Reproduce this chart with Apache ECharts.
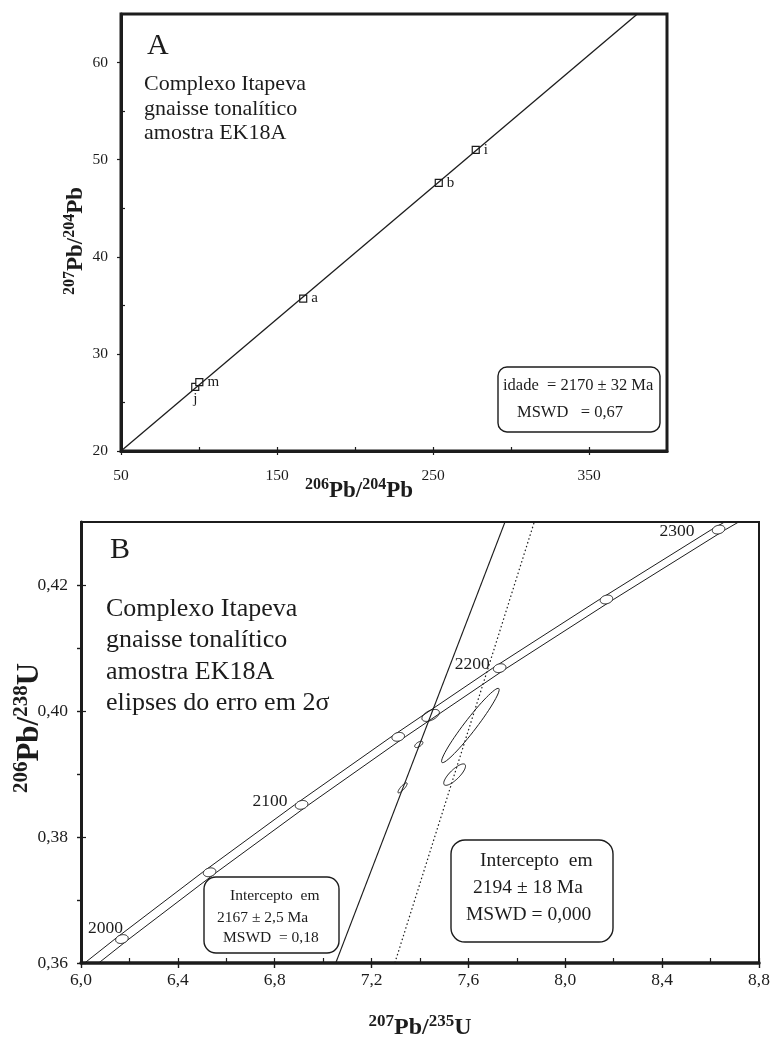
<!DOCTYPE html>
<html>
<head>
<meta charset="utf-8">
<script src="https://cdn.jsdelivr.net/npm/echarts@6/dist/echarts.min.js"></script>
<style>
    *{padding:0;margin:0;}
    body{background:#fff;overflow:hidden;}
    #chart{width:774px;height:1038px;}
</style>
</head>
<body>
<div id="chart"></div>
<script>
// ---------- A : isócrona Pb-Pb ----------
const aSamples = ['j', 'm', 'a', 'b', 'i'];
const aPb206 = [97.6, 100.2, 166.8, 253.7, 277.4];
const aPb207 = [26.6, 27.1, 35.7, 47.6, 51.0];
const aLineX = [50, 381];
const aLineY = [20, 65];
const aXLabels = [50, 150, 250, 350];
const aXAllTicks = [50, 100, 150, 200, 250, 300, 350];
const aYLabels = [20, 30, 40, 50, 60];
const aYMinor = [25, 35, 45, 55];

// ---------- B : concórdia ----------
const concAges = [2000, 2050, 2100, 2150, 2200, 2250, 2300];
const concX = [6.169, 6.531, 6.911, 7.310, 7.729, 8.170, 8.633];
const concY = [0.3638, 0.3744, 0.3851, 0.3959, 0.4068, 0.4177, 0.4288];
const concErrX = [0.026, 0.026, 0.026, 0.026, 0.026, 0.026, 0.026];
const concErrY = [0.0007, 0.0007, 0.0007, 0.0007, 0.0007, 0.0007, 0.0007];
const concRho = [0.2, 0.2, 0.2, 0.2, 0.2, 0.2, 0.2];
const concLabelAges = [2000, 2100, 2200, 2300];

const bandY = [0.3600, 0.3638, 0.3744, 0.3851, 0.3959, 0.4068, 0.4177, 0.4288, 0.4300];
const bandUpperX = [6.015, 6.140, 6.502, 6.882, 7.281, 7.700, 8.141, 8.604, 8.658];
const bandLowerX = [6.073, 6.198, 6.560, 6.940, 7.339, 7.758, 8.199, 8.662, 8.716];

const spotX = [7.608, 7.543, 7.444, 7.395, 7.328];
const spotY = [0.3977, 0.3899, 0.3993, 0.3947, 0.3878];
const spotErrX = [0.119, 0.045, 0.036, 0.017, 0.019];
const spotErrY = [0.0059, 0.0017, 0.00095, 0.0005, 0.0008];
const spotRho = [0.965, 0.8, 0.5, 0.6, 0.85];

const discSolidX = [7.052, 7.751];
const discSolidY = [0.36, 0.43];
const discDotX = [7.296, 7.872];
const discDotY = [0.36, 0.43];

const bXLabels = [6.0, 6.4, 6.8, 7.2, 7.6, 8.0, 8.4, 8.8];
const bXAllTicks = [6.0, 6.2, 6.4, 6.6, 6.8, 7.0, 7.2, 7.4, 7.6, 7.8, 8.0, 8.2, 8.4, 8.6, 8.8];
const bYLabels = [0.36, 0.38, 0.40, 0.42];
const bYAllTicks = [0.36, 0.37, 0.38, 0.39, 0.40, 0.41, 0.42];

// layout only
const aLabelPos = ['bottom', 'right', 'right', 'right', 'right'];
const ageLabelOffset = [[1, -11], [-14, -3], [-10, -4], [-24, 2]];

const ink = '#1c1c1c';
const serif = '"Liberation Serif", "Times New Roman", serif';

let myChart = echarts.init(document.getElementById('chart'));

function comma(d) {
    return function (v) { return v.toFixed(d).replace('.', ','); };
}

function ellipseItem(fill) {
    return function (params, api) {
        let cx = api.value(0), cy = api.value(1);
        let ex = api.value(2), ey = api.value(3), rho = api.value(4);
        let k = Math.sqrt(1 - rho * rho);
        let pts = [];
        for (let i = 0; i < 64; i++) {
            let t = i / 64 * Math.PI * 2;
            pts.push(api.coord([cx + ex * Math.cos(t), cy + ey * (rho * Math.cos(t) + k * Math.sin(t))]));
        }
        return {type: 'polygon', shape: {points: pts}, style: {fill: fill, stroke: ink, lineWidth: 1}};
    };
}

function titleRich(big, small) {
    return {
        s: {fontSize: small, fontWeight: 'bold', fontFamily: serif, color: ink, verticalAlign: 'top', lineHeight: small - 2},
        b: {fontSize: big, fontWeight: 'bold', fontFamily: serif, color: ink, verticalAlign: 'bottom', lineHeight: big + 3}
    };
}

function tickAxis(grid, min, max, pos, values, inside, len) {
    return {
        type: 'value', gridIndex: grid, min: min, max: max, position: pos,
        axisLine: {show: false, onZero: false},
        axisTick: {show: true, customValues: values, inside: inside, length: len, lineStyle: {color: ink, width: 1.2}},
        axisLabel: {show: false},
        splitLine: {show: false}
    };
}

let option = {
    animation: false,
    backgroundColor: '#fff',
    grid: [
        {left: 121, top: 14, width: 546, height: 437, show: true, borderColor: ink, borderWidth: 3,
            backgroundColor: 'transparent', containLabel: false, outerBoundsMode: 'none'},
        {left: 81, top: 522, width: 678, height: 441, show: true, borderColor: ink, borderWidth: 2,
            backgroundColor: 'transparent', containLabel: false, outerBoundsMode: 'none'}
    ],
    xAxis: [
        {
            type: 'value', gridIndex: 0, min: 50, max: 400, position: 'bottom',
            axisLine: {show: true, onZero: false, lineStyle: {color: ink, width: 3}},
            axisTick: {show: true, customValues: aXLabels, length: 4, lineStyle: {color: ink, width: 1.2}},
            axisLabel: {customValues: aXLabels, color: ink, fontFamily: serif, fontSize: 15.5, margin: 17},
            splitLine: {show: false},
            name: '{s|206}{b|Pb/}{s|204}{b|Pb}', nameLocation: 'middle', nameGap: 26, nameMoveOverlap: false,
            nameTextStyle: {padding: [0, 70, 0, 0], rich: titleRich(23, 16)}
        },
        tickAxis(0, 50, 400, 'bottom', aXAllTicks, true, 4),
        {
            type: 'value', gridIndex: 1, min: 6.0, max: 8.8, position: 'bottom',
            axisLine: {show: true, onZero: false, lineStyle: {color: ink, width: 3.5}},
            axisTick: {show: true, customValues: bXLabels, length: 5, lineStyle: {color: ink, width: 1.4}},
            axisLabel: {customValues: bXLabels, formatter: comma(1), color: ink, fontFamily: serif, fontSize: 17.5, margin: 8},
            splitLine: {show: false},
            name: '{s|207}{b|Pb/}{s|235}{b|U}', nameLocation: 'middle', nameGap: 50, nameMoveOverlap: false,
            nameTextStyle: {rich: titleRich(24, 17)}
        },
        tickAxis(1, 6.0, 8.8, 'bottom', bXAllTicks, true, 5)
    ],
    yAxis: [
        {
            type: 'value', gridIndex: 0, min: 20, max: 65, position: 'left',
            axisLine: {show: true, onZero: false, lineStyle: {color: ink, width: 3}},
            axisTick: {show: true, customValues: aYLabels, length: 4, lineStyle: {color: ink, width: 1.2}},
            axisLabel: {customValues: aYLabels, color: ink, fontFamily: serif, fontSize: 15.5, margin: 13},
            splitLine: {show: false},
            name: '{s|207}{b|Pb/}{s|204}{b|Pb}', nameLocation: 'middle', nameGap: 33, nameMoveOverlap: false,
            nameTextStyle: {padding: [0, 17, 0, 0], rich: titleRich(23, 16)}
        },
        tickAxis(0, 20, 65, 'left', aYMinor, true, 4),
        {
            type: 'value', gridIndex: 1, min: 0.36, max: 0.43, position: 'left',
            axisLine: {show: true, onZero: false, lineStyle: {color: ink, width: 3}},
            axisTick: {show: true, customValues: bYAllTicks, length: 4, lineStyle: {color: ink, width: 1.4}},
            axisLabel: {customValues: bYLabels, formatter: comma(2), color: ink, fontFamily: serif, fontSize: 17.5, margin: 13},
            splitLine: {show: false},
            name: '{s|206}{b|Pb/}{s|238}{b|U}', nameLocation: 'middle', nameGap: 36, nameMoveOverlap: false,
            nameTextStyle: {padding: [0, 0, 0, 29], rich: titleRich(31, 21)}
        },
        tickAxis(1, 0.36, 0.43, 'left', bYLabels, true, 5)
    ],
    series: [
        {   // isócrona
            type: 'line', xAxisIndex: 0, yAxisIndex: 0, showSymbol: false, silent: true,
            data: aLineX.map((x, i) => [x, aLineY[i]]),
            lineStyle: {color: ink, width: 1.3}
        },
        {
            type: 'scatter', xAxisIndex: 0, yAxisIndex: 0, symbol: 'rect', symbolSize: 7,
            itemStyle: {color: '#fff', borderColor: ink, borderWidth: 1.2, opacity: 1},
            label: {show: true, formatter: '{b}', color: ink, fontFamily: serif, fontSize: 15, distance: 4},
            data: aSamples.map((s, i) => ({
                name: s, value: [aPb206[i], aPb207[i]],
                label: {position: aLabelPos[i], distance: aLabelPos[i] === 'bottom' ? 1 : 4}
            }))
        },
        {   // faixa de erro da concórdia
            type: 'line', xAxisIndex: 2, yAxisIndex: 2, showSymbol: false, silent: true,
            data: bandY.map((y, i) => [bandUpperX[i], y]),
            lineStyle: {color: ink, width: 1}
        },
        {
            type: 'line', xAxisIndex: 2, yAxisIndex: 2, showSymbol: false, silent: true,
            data: bandY.map((y, i) => [bandLowerX[i], y]),
            lineStyle: {color: ink, width: 1}
        },
        {   // discórdia 2167 Ma
            type: 'line', xAxisIndex: 2, yAxisIndex: 2, showSymbol: false, silent: true,
            data: discSolidX.map((x, i) => [x, discSolidY[i]]),
            lineStyle: {color: ink, width: 1.1}
        },
        {   // discórdia 2194 Ma
            type: 'line', xAxisIndex: 2, yAxisIndex: 2, showSymbol: false, silent: true,
            data: discDotX.map((x, i) => [x, discDotY[i]]),
            lineStyle: {color: ink, width: 1.2, type: [1.5, 2.5]}
        },
        {   // marcas de idade
            type: 'custom', xAxisIndex: 2, yAxisIndex: 2, silent: true, z: 4,
            renderItem: ellipseItem('#fff'),
            encode: {x: 0, y: 1},
            data: concAges.map((a, i) => [concX[i], concY[i], concErrX[i], concErrY[i], concRho[i]])
        },
        {
            type: 'scatter', xAxisIndex: 2, yAxisIndex: 2, symbolSize: 0, silent: true, z: 5,
            itemStyle: {opacity: 1},
            label: {show: true, position: 'left', distance: 0, formatter: '{b}', color: ink, opacity: 1,
                fontFamily: serif, fontSize: 17.5},
            data: concLabelAges.map((a, j) => {
                let i = concAges.indexOf(a);
                return {name: String(a), value: [concX[i], concY[i]], label: {offset: ageLabelOffset[j]}};
            })
        },
        {   // elipses de erro 2σ
            type: 'custom', xAxisIndex: 2, yAxisIndex: 2, silent: true, z: 4,
            renderItem: ellipseItem('none'),
            encode: {x: 0, y: 1},
            data: spotX.map((x, i) => [x, spotY[i], spotErrX[i], spotErrY[i], spotRho[i]])
        }
    ],
    graphic: {
        elements: [
            {type: 'text', x: 147, y: 31.5, style: {text: 'A', font: '30px ' + serif, fill: ink, lineHeight: 30}},
            {type: 'text', x: 144, y: 72, style: {text: 'Complexo Itapeva\ngnaisse tonalítico\namostra EK18A', font: '22px ' + serif, fill: ink, lineHeight: 24.5}},
            {type: 'rect', shape: {x: 498, y: 367, width: 162, height: 65, r: 9}, style: {fill: 'none', stroke: ink, lineWidth: 1.4}},
            {type: 'text', x: 503, y: 386, style: {text: 'idade  = 2170 ± 32 Ma', font: '16.5px ' + serif, fill: ink, verticalAlign: 'middle'}},
            {type: 'text', x: 517, y: 412.5, style: {text: 'MSWD   = 0,67', font: '16.5px ' + serif, fill: ink, verticalAlign: 'middle'}},

            {type: 'text', x: 110, y: 535, style: {text: 'B', font: '30px ' + serif, fill: ink, lineHeight: 30}},
            {type: 'text', x: 106, y: 593, style: {text: 'Complexo Itapeva\ngnaisse tonalítico\namostra EK18A\nelipses do erro em 2σ', font: '26px ' + serif, fill: ink, lineHeight: 31.5}},
            {type: 'rect', shape: {x: 204, y: 877, width: 135, height: 76, r: 12}, style: {fill: 'none', stroke: ink, lineWidth: 1.4}},
            {type: 'text', x: 230, y: 895.5, style: {text: 'Intercepto  em', font: '15.5px ' + serif, fill: ink, verticalAlign: 'middle'}},
            {type: 'text', x: 217, y: 917.5, style: {text: '2167 ± 2,5 Ma', font: '15.5px ' + serif, fill: ink, verticalAlign: 'middle'}},
            {type: 'text', x: 223, y: 938, style: {text: 'MSWD  = 0,18', font: '15.5px ' + serif, fill: ink, verticalAlign: 'middle'}},
            {type: 'rect', shape: {x: 451, y: 840, width: 162, height: 102, r: 14}, style: {fill: 'none', stroke: ink, lineWidth: 1.4}},
            {type: 'text', x: 480, y: 860.5, style: {text: 'Intercepto  em', font: '19.5px ' + serif, fill: ink, verticalAlign: 'middle'}},
            {type: 'text', x: 473, y: 888, style: {text: '2194 ± 18 Ma', font: '19.5px ' + serif, fill: ink, verticalAlign: 'middle'}},
            {type: 'text', x: 466, y: 915, style: {text: 'MSWD = 0,000', font: '19.5px ' + serif, fill: ink, verticalAlign: 'middle'}}
        ]
    }
};
myChart.setOption(option);
</script>
</body>
</html>
